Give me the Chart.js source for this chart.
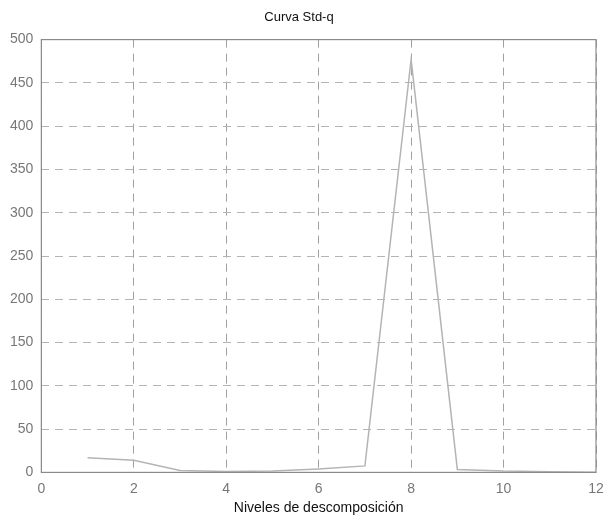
<!DOCTYPE html>
<html>
<head>
<meta charset="utf-8">
<script src="https://cdn.jsdelivr.net/npm/chart.js@4/dist/chart.umd.min.js"></script>
<style>
  html, body { margin: 0; padding: 0; background: #fff; }
  #chart { display: block; }
</style>
</head>
<body>
<canvas id="chart" width="608" height="517"></canvas>
<script>
// decomposition levels and Std-q values
const levels = [1, 2, 3, 4, 5, 6, 7, 8, 9, 10, 11, 12];
const stdq = [17, 14, 2.2, 1.1, 1.5, 4, 7.5, 477, 3.4, 1.5, 0.8, 0.1];
const xTicks = [0, 2, 4, 6, 8, 10, 12];
const yTicks = [0, 50, 100, 150, 200, 250, 300, 350, 400, 450, 500];

const points = levels.map((x, i) => ({ x: x, y: stdq[i] }));

// box around the plot area, like the matlab axes
const frame = {
    id: 'frame',
    afterDraw(chart) {
        const a = chart.chartArea;
        const ctx = chart.ctx;
        ctx.save();
        ctx.strokeStyle = '#8a8a8a';
        ctx.lineWidth = 1.2;
        ctx.strokeRect(a.left, a.top, a.right - a.left, a.bottom - a.top);
        ctx.restore();
    }
};

new Chart(document.getElementById('chart').getContext('2d'), {
    type: 'line',
    data: {
        datasets: [{
            data: points,
            borderColor: '#b4b4b4',
            borderWidth: 1.5,
            pointRadius: 0,
            tension: 0,
            fill: false
        }]
    },
    options: {
        responsive: false,
        animation: false,
        layout: { padding: { left: 2, right: 12, top: 4, bottom: 0 } },
        plugins: {
            legend: { display: false },
            tooltip: { enabled: false },
            title: {
                display: true,
                text: 'Curva Std-q',
                color: '#111',
                font: { family: 'Liberation Sans', size: 13, weight: 'normal' },
                padding: { top: 6, bottom: 14 }
            }
        },
        scales: {
            x: {
                type: 'linear',
                min: 0,
                max: 12,
                afterBuildTicks: axis => { axis.ticks = xTicks.map(v => ({ value: v })); },
                // let the last label run past the edge, as in the original
                afterFit: axis => { axis.paddingRight = 0; },
                ticks: {
                    color: '#777',
                    font: { family: 'Liberation Sans', size: 14 },
                    padding: 8
                },
                grid: {
                    color: '#a0a0a0',
                    lineWidth: 1,
                    drawTicks: false
                },
                border: { display: false, dash: [8, 6] },
                title: {
                    display: true,
                    text: 'Niveles de descomposición',
                    color: '#111',
                    font: { family: 'Liberation Sans', size: 14 },
                    padding: { top: -5, bottom: 0 }
                }
            },
            y: {
                min: 0,
                max: 500,
                afterBuildTicks: axis => { axis.ticks = yTicks.map(v => ({ value: v })); },
                ticks: {
                    color: '#777',
                    font: { family: 'Liberation Sans', size: 14 },
                    padding: 8
                },
                grid: {
                    color: '#b4b4b4',
                    lineWidth: 1,
                    drawTicks: false
                },
                border: { display: false, dash: [8, 6] }
            }
        }
    },
    plugins: [frame]
});
</script>
</body>
</html>
